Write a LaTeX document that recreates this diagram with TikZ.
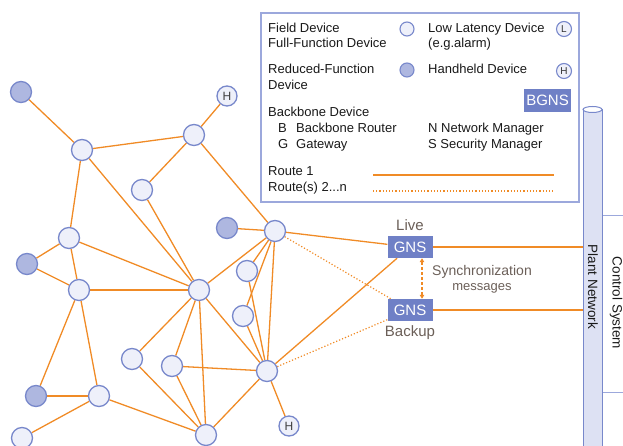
\documentclass[tikz,border=0pt]{standalone}
\usepackage{fontspec}
\setmainfont{Liberation Sans}
\usetikzlibrary{positioning,arrows.meta,backgrounds}

\definecolor{wireorange}{HTML}{F08B26}
\definecolor{devborder}{HTML}{7888CB}
\definecolor{devfill}{HTML}{EEF0FA}
\definecolor{rfdfill}{HTML}{AEB7E0}
\definecolor{gnsblue}{HTML}{6F80C6}
\definecolor{frameblue}{HTML}{9CA8DC}
\definecolor{pipefill}{HTML}{DDE1F3}
\definecolor{labelgrey}{HTML}{6B5F58}

\tikzset{
  ffd/.style={circle, draw=devborder, fill=devfill, line width=1.3pt, minimum size=21pt, inner sep=0pt},
  rfd/.style={ffd, fill=rfdfill},
  hhd/.style={ffd, minimum size=20pt, font=\fontsize{12}{12}\selectfont, text=black!75},
  legdev/.style={ffd, minimum size=14pt, line width=1.1pt, font=\fontsize{10}{10}\selectfont, text=black!80},
  wire/.style={draw=wireorange, line width=1.3pt},
  altwire/.style={wire, line width=1.2pt, dash pattern=on 1.2pt off 2pt},
  gns/.style={rectangle, fill=gnsblue, text=white, minimum width=45pt, minimum height=22pt, inner sep=0pt, font=\fontsize{15}{15}\selectfont},
  legtext/.style={anchor=base west, inner sep=0pt, font=\fontsize{13}{13}\selectfont, text=black!90},
  greytext/.style={inner sep=0pt, text=labelgrey, font=\fontsize{15}{15}\selectfont},
  sidetext/.style={rotate=-90, anchor=base, inner sep=0pt, font=\fontsize{13.5}{13.5}\selectfont, text=black!90}
}

\begin{document}
\begin{tikzpicture}[x=1pt, y=-1pt]
    \useasboundingbox (0,0) rectangle (623,446);

    % legend
    \node[draw=frameblue, line width=1.2pt, minimum width=318pt, minimum height=189pt, inner sep=0pt] (legend) at (420,107.5) {};
    \node[legtext] (lfd) at (268,33) {Field Device};
    \node[legtext] (lffd) at (268,48) {Full-Function Device};
    \node[legdev] (lffdc) at (407,29) {};
    \node[legtext] (llat) at (428,33) {Low Latency Device};
    \node[legtext] (lalarm) at (428,48) {(e.g.alarm)};
    \node[legdev, minimum size=15pt] (llatc) at (564,29) {L};
    \node[legtext] (lrfd) at (268,74) {Reduced-Function};
    \node[legtext] (lrfd2) at (268,90) {Device};
    \node[legdev, fill=rfdfill] (lrfdc) at (407,70) {};
    \node[legtext] (lhhd) at (428,74) {Handheld Device};
    \node[legdev, minimum size=15pt] (lhhdc) at (564,71) {H};
    \node[gns, minimum width=47pt, minimum height=23pt] (bgns) at (547.5,100.5) {BGNS};
    \node[legtext] (lbb) at (268,117) {Backbone Device};
    \node[legtext] (lbr) at (278,133) {\makebox[18pt][l]{B}Backbone Router};
    \node[legtext] (lgw) at (278,149) {\makebox[18pt][l]{G}Gateway};
    \node[legtext] (lnm) at (428,133) {N Network Manager};
    \node[legtext] (lsm) at (428,149) {S Security Manager};
    \node[legtext] (lr1) at (268,176) {Route 1};
    \node[legtext] (lr2) at (268,192) {Route(s) 2...n};
    \coordinate (r1a) at (373,175);
    \coordinate (r1b) at (554,175);
    \coordinate (r2a) at (373,191);
    \coordinate (r2b) at (554,191);
    \draw[wire] (r1a) -- (r1b);
    \draw[altwire] (r2a) -- (r2b);

    % plant network and control system
    \node[draw=frameblue, line width=1pt, minimum width=40pt, minimum height=177pt, anchor=north west] (ctrl) at (602,215) {};
    \node[draw=devborder, fill=pipefill, line width=1pt, minimum width=19pt, minimum height=340pt, inner sep=0pt] (plant) at (592.5,280) {};
    \draw[draw=devborder, fill=white, line width=1pt] (plant.north) ellipse (9.5pt and 3pt);
    \node[sidetext] (planttext) at (588,287) {Plant Network};
    \node[sidetext] (ctrltext) at (612.5,303) {Control System};

    % gateways
    \node[gns] (live) at (410,247) {GNS};
    \node[gns] (backup) at (410,310) {GNS};
    \node[greytext, above=5pt of live] (livetext) {Live};
    \node[greytext, below=4pt of backup] (backuptext) {Backup};
    \node[greytext, align=center] (sync) at (482,279) {\fontsize{14}{16}\selectfont Synchronization\\\fontsize{13}{13}\selectfont messages};

    % field devices
    \node[rfd] (ra) at (21,92) {};
    \node[hhd] (ha) at (227,96) {H};
    \node[ffd] (fa) at (82,150) {};
    \node[ffd] (fb) at (194,135) {};
    \node[ffd] (fc) at (142,190) {};
    \node[rfd] (rb) at (227,228) {};
    \node[ffd] (fd) at (275,231) {};
    \node[ffd] (fe) at (69,238) {};
    \node[rfd] (rc) at (27,264) {};
    \node[ffd] (ff) at (79,290) {};
    \node[ffd] (fg) at (199,290) {};
    \node[ffd] (fh) at (247,271) {};
    \node[ffd] (fi) at (243,316) {};
    \node[ffd] (fj) at (132,359) {};
    \node[ffd] (fk) at (172,366) {};
    \node[ffd] (fl) at (267,371) {};
    \node[rfd] (rd) at (36,396) {};
    \node[ffd] (fm) at (99,396) {};
    \node[ffd] (fn) at (22,438) {};
    \node[ffd] (fo) at (206,435) {};
    \node[hhd] (hb) at (289,426) {H};

    % routes
    \begin{scope}[on background layer]
    \draw[wire] (ra) -- (fa);
    \draw[wire] (fa) -- (fb);
    \draw[wire] (fb) -- (ha);
    \draw[wire] (fb) -- (fc);
    \draw[wire] (fb) -- (fd);
    \draw[wire] (fa) -- (fe);
    \draw[wire] (fa) -- (fg);
    \draw[wire] (fc) -- (fg);
    \draw[wire] (rb) -- (fd);
    \draw[wire] (fd) -- (fg);
    \draw[wire] (fd) -- (fh);
    \draw[wire] (fd) -- (fi);
    \draw[wire] (fd) -- (fl);
    \draw[wire] (fh) -- (fl);
    \draw[wire] (fi) -- (fl);
    \draw[wire] (rc) -- (fe);
    \draw[wire] (rc) -- (ff);
    \draw[wire] (fe) -- (ff);
    \draw[wire] (fe) -- (fg);
    \draw[wire] (ff) -- (fg);
    \draw[wire] (ff) -- (rd);
    \draw[wire] (ff) -- (fm);
    \draw[wire, line width=2.2pt] (rd) -- (fm);
    \draw[wire] (fm) -- (fn);
    \draw[wire] (fm) -- (fo);
    \draw[wire] (fg) -- (fj);
    \draw[wire] (fg) -- (fk);
    \draw[wire] (fg) -- (fo);
    \draw[wire] (fg) -- (fl);
    \draw[wire] (fj) -- (fo);
    \draw[wire] (fk) -- (fo);
    \draw[wire] (fk) -- (fl);
    \draw[wire] (fl) -- (fo);
    \draw[wire] (fl) -- (hb);
    \draw[wire] (fd) -- (live);
    \draw[wire] (fl) -- (live);
    \draw[altwire] (fd) -- (backup);
    \draw[altwire] (fl) -- (backup);
    \end{scope}
    \draw[wire, line width=2.2pt] (live) -- (live -| plant.west);
    \draw[wire, line width=2.2pt] (backup) -- (backup -| plant.west);
    \draw[wire, line width=1.2pt, dash pattern=on 3pt off 2pt, {Triangle[length=4pt,width=4.5pt]}-{Triangle[length=4pt,width=4.5pt]}]
        ([xshift=12pt]live.south) -- ([xshift=12pt]backup.north);
\end{tikzpicture}
\end{document}
